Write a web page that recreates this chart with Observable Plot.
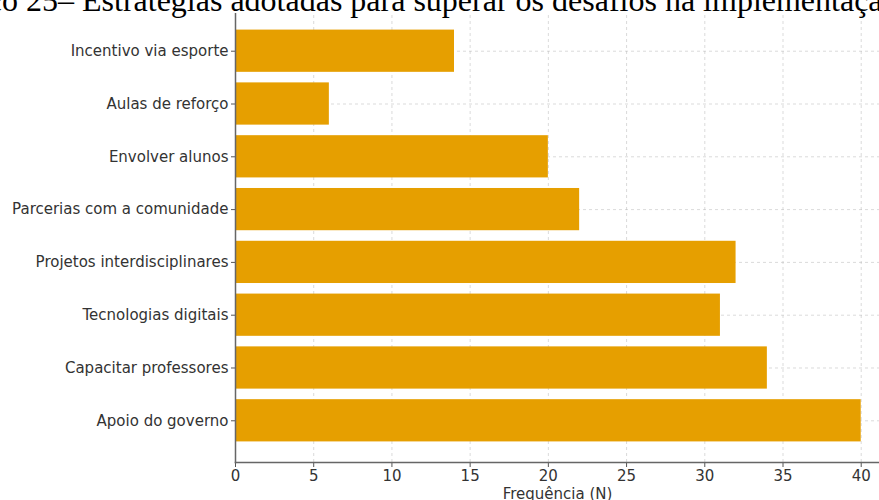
<!DOCTYPE html>
<html><head><meta charset="utf-8">
<script src="https://cdn.jsdelivr.net/npm/d3@7"></script>
<script src="https://cdn.jsdelivr.net/npm/@observablehq/plot@0.6"></script>
<style>
html,body{margin:0;padding:0;background:#fff;overflow:hidden;width:879px;height:500px;}
#wrap{position:relative;width:879px;height:500px;overflow:hidden;}
#title{position:absolute;left:0;top:-16px;height:29px;white-space:nowrap;font-family:"Liberation Serif",serif;font-size:32px;line-height:32px;color:#000;background:#fff;z-index:2;}
#chart{position:absolute;left:0;top:0;}
</style></head>
<body><div id="wrap"><div id="title"><span id="pre"></span><span id="rest"></span></div><div id="chart"></div></div>
<script>
const categories = [
  "Incentivo via esporte",
  "Aulas de reforço",
  "Envolver alunos",
  "Parcerias com a comunidade",
  "Projetos interdisciplinares",
  "Tecnologias digitais",
  "Capacitar professores",
  "Apoio do governo"
];
const values = [14, 6, 20, 22, 32, 31, 34, 40];
const xTicks = [0, 5, 10, 15, 20, 25, 30, 35, 40];
const titlePrefix = "Gráfico ";
const titleRest = "25– Estratégias adotadas para superar os desafios na implementação";
const xLabel = "Frequência (N)";

const data = categories.map((c, i) => ({category: c, value: values[i]}));

document.getElementById("pre").textContent = titlePrefix;
document.getElementById("rest").textContent = titleRest;
const pre = document.getElementById("pre");
document.getElementById("title").style.left = (26 - pre.getBoundingClientRect().width) + "px";

const chart = Plot.plot({
  width: 879,
  height: 500,
  marginLeft: 235,
  marginRight: 0,
  marginTop: 9,
  marginBottom: 38,
  style: {fontFamily: "DejaVu Sans", fontSize: "15px", color: "#333", background: "#fff", overflow: "visible"},
  x: {domain: [0, 42], range: [235, 892]},
  y: {domain: categories, paddingInner: 0.2, paddingOuter: 0.39, round: false},
  marks: [
    Plot.gridX(xTicks, {stroke: "#b0b0b0", strokeOpacity: 0.6, strokeDasharray: "3,3", strokeWidth: 0.8}),
    Plot.gridY({stroke: "#b0b0b0", strokeOpacity: 0.6, strokeDasharray: "3,3", strokeWidth: 0.8}),
    Plot.barX(data, {x: "value", y: "category", fill: "#E69F00"}),
    Plot.axisX({ticks: xTicks, tickSize: 5, tickPadding: 3, stroke: "#555", fill: "#333", fontSize: 15, label: xLabel, labelAnchor: "center", labelOffset: 36, labelArrow: "none"}),
    Plot.axisY({tickSize: 4, tickPadding: 3, stroke: "#555", fill: "#333", fontSize: 15, label: null}),
    Plot.frame({anchor: "left", stroke: "#666", strokeWidth: 1.5}),
    Plot.frame({anchor: "bottom", stroke: "#666", strokeWidth: 1.5})
  ]
});
document.getElementById("chart").appendChild(chart);
</script>
</body></html>
